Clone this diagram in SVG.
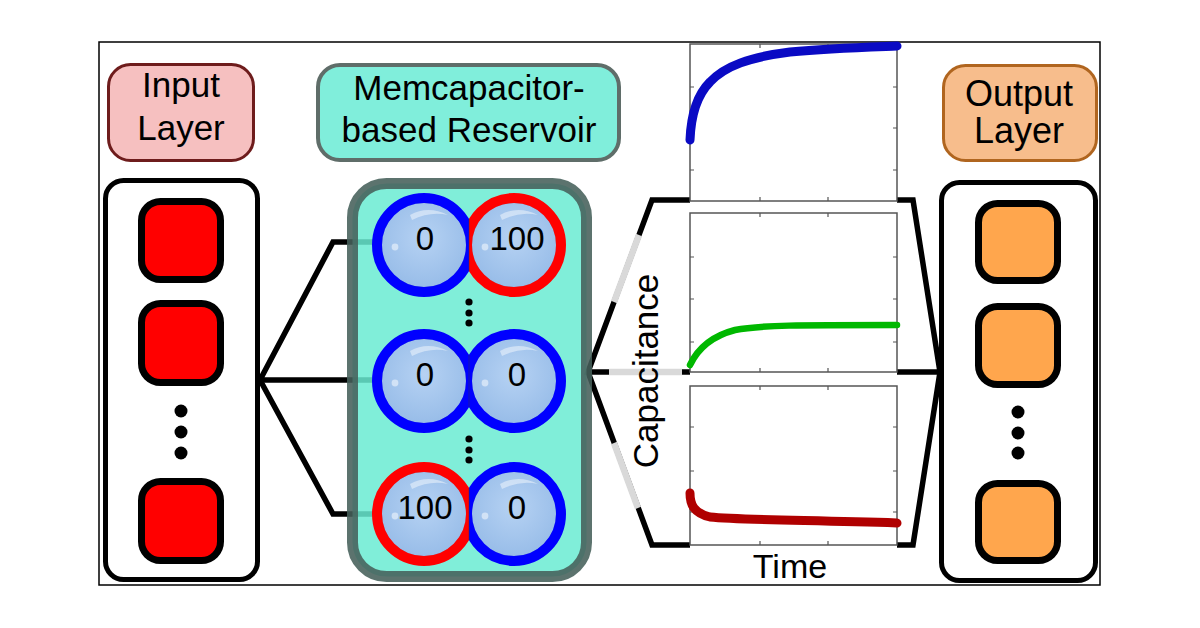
<svg xmlns="http://www.w3.org/2000/svg" xmlns:xlink="http://www.w3.org/1999/xlink" width="1200" height="628" viewBox="0 0 1200 628">
<style>
text{font-family:"Liberation Sans",Arial,sans-serif;fill:#000}
.lbl{font-size:35px;text-anchor:middle}
.num{font-size:33px;text-anchor:middle}
.conn{fill:none;stroke:#000;stroke-width:5.5;stroke-linejoin:miter}
.gray{fill:none;stroke:#d9d9d9;stroke-width:6.5}
.sq-in{fill:#ff0000;stroke:#000;stroke-width:7}
.sq-out{fill:#ffa64d;stroke:#000;stroke-width:7}
.layer{fill:#fff;stroke:#000;stroke-width:5}
.axis{fill:none;stroke:#555;stroke-width:1.5}
.tick{stroke:#555;stroke-width:1.2}
.ringB{fill:none;stroke:#0000ff;stroke-width:10}
.ringR{fill:none;stroke:#ff0000;stroke-width:10}
.seam{stroke:#334;stroke-width:0.8;opacity:0.6}
.curve{fill:none;stroke-linecap:round;stroke-linejoin:round}
</style>
<defs>
<radialGradient id="bub" cx="50%" cy="42%" r="60%">
<stop offset="0" stop-color="#b6d2f3"/>
<stop offset="1" stop-color="#97bce8"/>
</radialGradient>
<g id="bubble">
<circle r="42.5" fill="url(#bub)" stroke="#7c9ec9" stroke-width="0.8"/>
<path d="M-14,-30 Q4,-40 24,-30 Q6,-34 -12,-25 Z" fill="#fff" opacity="0.45"/>
<circle cx="-29" cy="2" r="3.4" fill="#fff" opacity="0.5"/>
</g>
<clipPath id="clipL"><rect x="0" y="0" width="469" height="628"/></clipPath>
<clipPath id="clipR"><rect x="469" y="0" width="731" height="628"/></clipPath>
</defs>

<rect x="0" y="0" width="1200" height="628" fill="#fff"/>
<rect id="frame" x="99" y="42" width="1001" height="543" fill="none" stroke="#000" stroke-width="1.5"/>

<!-- Connectors -->
<g id="connectors">
<polyline class="conn" points="374,242 333,242 260,380 374,380"/>
<polyline class="conn" points="260,380 333,514 374,514"/>
<polyline class="conn" points="690,200 652,200 588,372 690,372"/>
<polyline class="conn" points="588,372 652,545 690,545"/>
<line class="gray" x1="614" y1="302" x2="639" y2="235"/>
<line class="gray" x1="614" y1="443" x2="638" y2="508"/>
<line class="gray" x1="609" y1="372" x2="682" y2="372"/>
<polyline class="conn" points="897,200 913,200 940,372 897,372"/>
<polyline class="conn" points="940,372 913,545 897,545"/>
</g>

<!-- Input layer -->
<g id="input-label">
<rect x="108.5" y="64.5" width="145" height="96" rx="22" fill="#f6c0c0" stroke="#6e1c1c" stroke-width="3"/>
<text class="lbl" x="181" y="97">Input</text>
<text class="lbl" x="181" y="140">Layer</text>
</g>
<g id="input-layer">
<rect class="layer" x="105.5" y="180.5" width="152" height="399" rx="18"/>
<rect class="sq-in" x="141.5" y="201.5" width="79" height="78" rx="19"/>
<rect class="sq-in" x="141.5" y="303.5" width="79" height="79" rx="19"/>
<rect class="sq-in" x="141.5" y="481.5" width="79" height="79" rx="19"/>
<circle cx="181" cy="411" r="6.5"/>
<circle cx="181" cy="432" r="6.5"/>
<circle cx="181" cy="453" r="6.5"/>
</g>

<!-- Reservoir -->
<g id="reservoir-label">
<rect x="318" y="65" width="301" height="95" rx="22" fill="#80eedb" stroke="#5f6d69" stroke-width="4"/>
<text class="lbl" x="469" y="100">Memcapacitor-</text>
<text class="lbl" x="469" y="142">based Reservoir</text>
</g>
<g id="reservoir">
<rect x="352.5" y="183.5" width="234" height="393" rx="34" fill="#6aebd2" fill-opacity="0.85" stroke="#46605a" stroke-opacity="0.88" stroke-width="11"/>
<g id="cell-1a" clip-path="url(#clipL)"><use xlink:href="#bubble" x="424" y="245"/><circle class="ringB" cx="424" cy="245" r="47"/></g>
<g id="cell-1b" clip-path="url(#clipR)"><use xlink:href="#bubble" x="514" y="245"/><circle class="ringR" cx="514" cy="245" r="47"/></g>
<g id="cell-2a" clip-path="url(#clipL)"><use xlink:href="#bubble" x="424" y="381"/><circle class="ringB" cx="424" cy="381" r="47"/></g>
<g id="cell-2b" clip-path="url(#clipR)"><use xlink:href="#bubble" x="514" y="381"/><circle class="ringB" cx="514" cy="381" r="47"/></g>
<g id="cell-3a" clip-path="url(#clipL)"><use xlink:href="#bubble" x="424" y="514"/><circle class="ringR" cx="424" cy="514" r="47"/></g>
<g id="cell-3b" clip-path="url(#clipR)"><use xlink:href="#bubble" x="514" y="514"/><circle class="ringB" cx="514" cy="514" r="47"/></g>
<line class="seam" x1="469" y1="219" x2="469" y2="271"/>
<line class="seam" x1="469" y1="355" x2="469" y2="407"/>
<line class="seam" x1="469" y1="488" x2="469" y2="540"/>
<text class="num" x="425" y="250">0</text>
<text class="num" x="517" y="250">100</text>
<text class="num" x="425" y="386">0</text>
<text class="num" x="517" y="386">0</text>
<text class="num" x="425" y="519">100</text>
<text class="num" x="517" y="519">0</text>
<circle cx="469" cy="302" r="3.6"/>
<circle cx="469" cy="313" r="3.6"/>
<circle cx="469" cy="323" r="3.6"/>
<circle cx="469" cy="439" r="3.6"/>
<circle cx="469" cy="450" r="3.6"/>
<circle cx="469" cy="460" r="3.6"/>
</g>

<!-- Plots -->
<g id="plot-1">
<rect class="axis" x="690" y="44" width="207" height="157" fill="#fff"/>
<path class="tick" d="M760,44v4M828,44v4M760,201v-4M828,201v-4M690,87h4M690,128h4M690,170h4M897,87h-4M897,128h-4M897,170h-4"/>
<path class="curve" stroke="#0a0ac4" stroke-width="9" d="M690,140 C691,115 697,95 710,82 C725,66 750,57 790,52 C830,48 870,47 897,46"/>
</g>
<g id="plot-2">
<rect class="axis" x="690" y="213" width="207" height="159" fill="#fff"/>
<path class="tick" d="M760,213v4M828,213v4M760,372v-4M828,372v-4M690,257h4M690,299h4M690,342h4M897,257h-4M897,299h-4M897,342h-4"/>
<path class="curve" stroke="#00b800" stroke-width="6.5" d="M690,365 C698,348 712,336 735,330 C760,325 800,325 897,325"/>
</g>
<g id="plot-3">
<rect class="axis" x="690" y="386" width="207" height="159" fill="#fff"/>
<path class="tick" d="M760,386v4M828,386v4M760,545v-4M828,545v-4M690,427h4M690,471h4M690,512h4M897,427h-4M897,471h-4M897,512h-4"/>
<path class="curve" stroke="#b00000" stroke-width="9" d="M690,493 C690,505 694,513 710,517 C740,520 800,520 897,523"/>
</g>
<text id="ylabel" class="lbl" transform="translate(658,371) rotate(-90)" x="0" y="0">Capacitance</text>
<text id="xlabel" x="790" y="578" style="font-size:34px;text-anchor:middle">Time</text>

<!-- Output layer -->
<g id="output-label">
<rect x="943.5" y="65.5" width="153" height="95" rx="22" fill="#f7bd8c" stroke="#b0651f" stroke-width="3"/>
<text class="lbl" x="1019" y="106" style="font-size:36px">Output</text>
<text class="lbl" x="1019" y="143" style="font-size:36px">Layer</text>
</g>
<g id="output-layer">
<rect class="layer" x="941.5" y="182.5" width="154" height="398" rx="18"/>
<rect class="sq-out" x="978.5" y="203.5" width="79" height="77" rx="19"/>
<rect class="sq-out" x="978.5" y="306.5" width="79" height="78" rx="19"/>
<rect class="sq-out" x="978.5" y="483.5" width="79" height="77" rx="19"/>
<circle cx="1018" cy="412" r="6.5"/>
<circle cx="1018" cy="433" r="6.5"/>
<circle cx="1018" cy="453" r="6.5"/>
</g>
</svg>
